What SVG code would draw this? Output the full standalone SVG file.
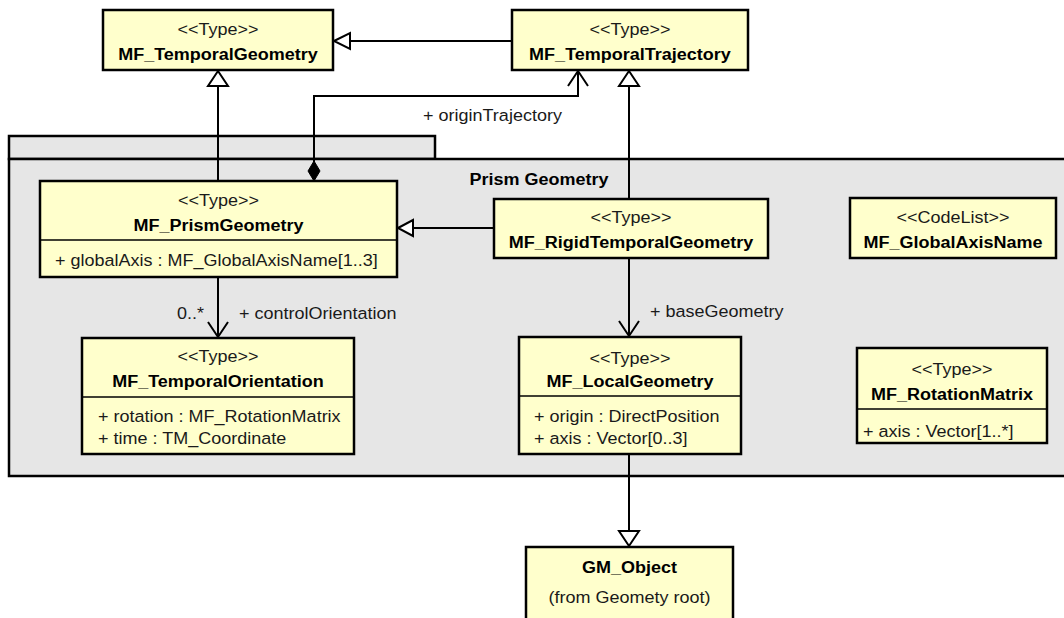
<svg xmlns="http://www.w3.org/2000/svg" width="1064" height="618" viewBox="0 0 1064 618">
<style>
.box{fill:#FFFFCC;stroke:#000;stroke-width:2.5}
.div{stroke:#000;stroke-width:1.5}
.pkg{fill:#E6E6E6;stroke:#000;stroke-width:2.5}
.ln{fill:none;stroke:#000;stroke-width:2}
.tri{fill:#fff;stroke:#000;stroke-width:2}
.dia{fill:#000;stroke:#000;stroke-width:1}
.st{font-family:"Liberation Sans",Arial,sans-serif;font-size:17px;fill:#1a1a1a;text-anchor:middle}
.nm{font-family:"Liberation Sans",Arial,sans-serif;font-size:17px;font-weight:bold;fill:#000;text-anchor:middle}
.at{font-family:"Liberation Sans",Arial,sans-serif;font-size:17px;fill:#1a1a1a;text-anchor:start}
.lbl{font-family:"Liberation Sans",Arial,sans-serif;font-size:17px;fill:#1a1a1a}
</style>

<g id="pkg_prism_geometry">
<rect class="pkg" x="9" y="136" width="426" height="23"/>
<rect class="pkg" x="9" y="159" width="1070" height="317"/>
<text class="nm" transform="translate(539,185) scale(1.06,1)">Prism Geometry</text>
</g>

<g id="connectors">
<line class="ln" x1="512" y1="41" x2="350" y2="41"/>
<polygon class="tri" points="334,41 350,33 350,49"/>
<line class="ln" x1="218" y1="181" x2="218" y2="86"/>
<polygon class="tri" points="218,71 208,86 228,86"/>
<line class="ln" x1="629" y1="199" x2="629" y2="86"/>
<polygon class="tri" points="629,71 619,86 639,86"/>
<line class="ln" x1="494" y1="228" x2="413" y2="228"/>
<polygon class="tri" points="398,228 413,220 413,236"/>
<polyline class="ln" points="314,162 314,96 578,96 578,71"/>
<polyline class="ln" points="568,86 578,71 588,86"/>
<polygon class="dia" points="314,161 320,171 314,181 308,171"/>
<text class="lbl" transform="translate(423,121) scale(1.06,1)">+ originTrajectory</text>
<line class="ln" x1="218" y1="277" x2="218" y2="337"/>
<polyline class="ln" points="208,322 218,337 228,322"/>
<text class="lbl" text-anchor="end" transform="translate(204,319) scale(1.06,1)">0..*</text>
<text class="lbl" transform="translate(239,319) scale(1.06,1)">+ controlOrientation</text>
<line class="ln" x1="629" y1="258" x2="629" y2="336"/>
<polyline class="ln" points="619,321 629,336 639,321"/>
<text class="lbl" transform="translate(650,317) scale(1.06,1)">+ baseGeometry</text>
<line class="ln" x1="629" y1="454" x2="629" y2="531"/>
<polygon class="tri" points="629,546 619,531 639,531"/>
</g>

<g id="MF_TemporalGeometry">
<rect class="box" x="103" y="10" width="230" height="60"/>
<text class="st" transform="translate(218,35) scale(1.06,1)">&lt;&lt;Type&gt;&gt;</text>
<text class="nm" transform="translate(218,60) scale(1.06,1)">MF_TemporalGeometry</text>
</g>

<g id="MF_TemporalTrajectory">
<rect class="box" x="512" y="10" width="236" height="60"/>
<text class="st" transform="translate(630,35) scale(1.06,1)">&lt;&lt;Type&gt;&gt;</text>
<text class="nm" transform="translate(630,60) scale(1.06,1)">MF_TemporalTrajectory</text>
</g>

<g id="MF_PrismGeometry">
<rect class="box" x="40" y="181" width="357" height="96"/>
<line class="div" x1="40" y1="240" x2="397" y2="240"/>
<text class="st" transform="translate(218.5,206) scale(1.06,1)">&lt;&lt;Type&gt;&gt;</text>
<text class="nm" transform="translate(218.5,231) scale(1.06,1)">MF_PrismGeometry</text>
<text class="at" transform="translate(55,266) scale(1.06,1)">+ globalAxis : MF_GlobalAxisName[1..3]</text>
</g>

<g id="MF_TemporalOrientation">
<rect class="box" x="82" y="338" width="272" height="116"/>
<line class="div" x1="82" y1="397" x2="354" y2="397"/>
<text class="st" transform="translate(218,362) scale(1.06,1)">&lt;&lt;Type&gt;&gt;</text>
<text class="nm" transform="translate(218,387) scale(1.06,1)">MF_TemporalOrientation</text>
<text class="at" transform="translate(98,422) scale(1.06,1)">+ rotation : MF_RotationMatrix</text>
<text class="at" transform="translate(98,444) scale(1.06,1)">+ time : TM_Coordinate</text>
</g>

<g id="MF_RigidTemporalGeometry">
<rect class="box" x="494" y="199" width="274" height="59"/>
<text class="st" transform="translate(631,223) scale(1.06,1)">&lt;&lt;Type&gt;&gt;</text>
<text class="nm" transform="translate(631,248) scale(1.06,1)">MF_RigidTemporalGeometry</text>
</g>

<g id="MF_LocalGeometry">
<rect class="box" x="519" y="337" width="222" height="117"/>
<line class="div" x1="519" y1="396" x2="741" y2="396"/>
<text class="st" transform="translate(630,364) scale(1.06,1)">&lt;&lt;Type&gt;&gt;</text>
<text class="nm" transform="translate(630,387) scale(1.06,1)">MF_LocalGeometry</text>
<text class="at" transform="translate(534,422) scale(1.06,1)">+ origin : DirectPosition</text>
<text class="at" transform="translate(534,444) scale(1.06,1)">+ axis : Vector[0..3]</text>
</g>

<g id="MF_GlobalAxisName">
<rect class="box" x="850" y="198" width="206" height="60"/>
<text class="st" transform="translate(953,223) scale(1.06,1)">&lt;&lt;CodeList&gt;&gt;</text>
<text class="nm" transform="translate(953,248) scale(1.06,1)">MF_GlobalAxisName</text>
</g>

<g id="MF_RotationMatrix">
<rect class="box" x="857" y="348" width="190" height="95"/>
<line class="div" x1="857" y1="409" x2="1047" y2="409"/>
<text class="st" transform="translate(952,375) scale(1.06,1)">&lt;&lt;Type&gt;&gt;</text>
<text class="nm" transform="translate(952,400) scale(1.06,1)">MF_RotationMatrix</text>
<text class="at" transform="translate(863,437) scale(1.06,1)">+ axis : Vector[1..*]</text>
</g>

<g id="GM_Object">
<rect class="box" x="526" y="547" width="207" height="80"/>
<text class="nm" transform="translate(629.5,573) scale(1.06,1)">GM_Object</text>
<text class="st" transform="translate(629.5,603) scale(1.06,1)">(from Geomety root)</text>
</g>
</svg>
